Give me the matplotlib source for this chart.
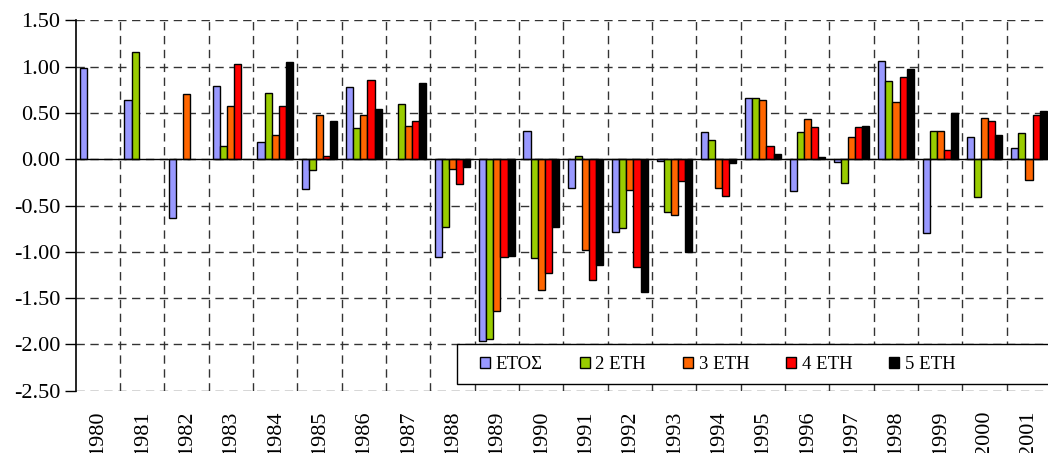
import numpy as np
import matplotlib
matplotlib.use("Agg")
import matplotlib.pyplot as plt
from matplotlib.patches import Rectangle

plt.rcParams['font.family'] = 'serif'
plt.rcParams['font.serif'] = ['Liberation Serif', 'DejaVu Serif']

years = [str(y) for y in range(1980, 2002)]
labels = ['\u0395\u03a4\u039f\u03a3', '2 \u0395\u03a4\u0397', '3 \u0395\u03a4\u0397',
          '4 \u0395\u03a4\u0397', '5 \u0395\u03a4\u0397']
colors = ['#9999FF', '#99CC00', '#FF6600', '#FF0000', '#000000']

# values (nan = no bar)
nan = np.nan
etos = [0.99, 0.64, -0.63, 0.79, 0.19, -0.32, 0.78, nan, -1.06, -1.96, 0.30,
        -0.31, -0.79, -0.02, 0.29, 0.66, -0.34, -0.03, 1.06, -0.80, 0.24, 0.12]
eth2 = [nan, 1.16, nan, 0.14, 0.72, -0.12, 0.34, 0.60, -0.73, -1.94, -1.07,
        0.04, -0.74, -0.57, 0.21, 0.66, 0.29, -0.26, 0.84, 0.30, -0.41, 0.28]
eth3 = [nan, nan, 0.70, 0.57, 0.26, 0.48, 0.48, 0.36, -0.11, -1.64, -1.41,
        -0.98, -0.33, -0.60, -0.31, 0.64, 0.43, 0.24, 0.62, 0.31, 0.45, -0.22]
eth4 = [nan, nan, nan, 1.03, 0.57, 0.04, 0.86, 0.41, -0.27, -1.06, -1.23,
        -1.30, -1.16, -0.24, -0.40, 0.14, 0.35, 0.35, 0.89, 0.10, 0.41, 0.48]
eth5 = [nan, nan, nan, nan, 1.05, 0.41, 0.54, 0.82, -0.08, -1.05, -0.73,
        -1.14, -1.43, -1.00, -0.04, 0.06, 0.02, 0.36, 0.98, 0.50, 0.26, 0.52]
series = [etos, eth2, eth3, eth4, eth5]

fig = plt.figure(figsize=(10.48, 4.53), dpi=100)
ax = fig.add_axes([0.0722, 0.1375, 0.9308, 0.8175])

x = np.arange(len(years))
w = 0.16
for i, vals in enumerate(series):
    ax.bar(x + (i - 2) * w, vals, w, color=colors[i], edgecolor='black',
           linewidth=1.0, label=labels[i], zorder=3)

ax.axhline(0, color='black', linewidth=1.0, zorder=4)

ax.set_xlim(-0.5, len(years) - 0.5)
ax.set_ylim(-2.5, 1.5)
yt = np.arange(-2.5, 1.51, 0.5)
ax.set_yticks(yt)
ax.set_yticklabels(['%.2f' % v for v in yt], fontsize=16)
ax.set_xticks(x)
ax.set_xticklabels(years, rotation=90, fontsize=16)
ax.set_xticks(np.arange(0.5, len(years) - 0.5, 1), minor=True)
ax.tick_params(axis='x', which='major', length=0, pad=14)
ax.tick_params(axis='x', which='minor', length=0)
ax.tick_params(axis='y', length=8, width=1, pad=3)

ax.grid(axis='y', which='major', linestyle=(0, (6, 4)), color='#333333', linewidth=1.0, zorder=1)
ax.grid(axis='x', which='minor', linestyle=(0, (6, 4)), color='#333333', linewidth=1.0, zorder=1)
ax.grid(axis='x', which='major', visible=False)

for s in ['top', 'right', 'bottom']:
    ax.spines[s].set_visible(False)
ax.spines['left'].set_linewidth(1.2)

# legend box drawn separately, legend entries without frame
box = Rectangle((0.391, 0.0173), 0.62, 0.108, transform=ax.transAxes,
                facecolor='white', edgecolor='black', linewidth=1.0,
                zorder=5, clip_on=False)
ax.add_patch(box)
leg = ax.legend(loc='center left', bbox_to_anchor=(0.4145, 0.0713), ncol=5,
                fontsize=13.5, frameon=False,
                handlelength=0.55, handleheight=0.55, handletextpad=0.3,
                columnspacing=1.95, borderpad=0, borderaxespad=0)
leg.set_zorder(6)

fig.savefig('out.png', dpi=100)
